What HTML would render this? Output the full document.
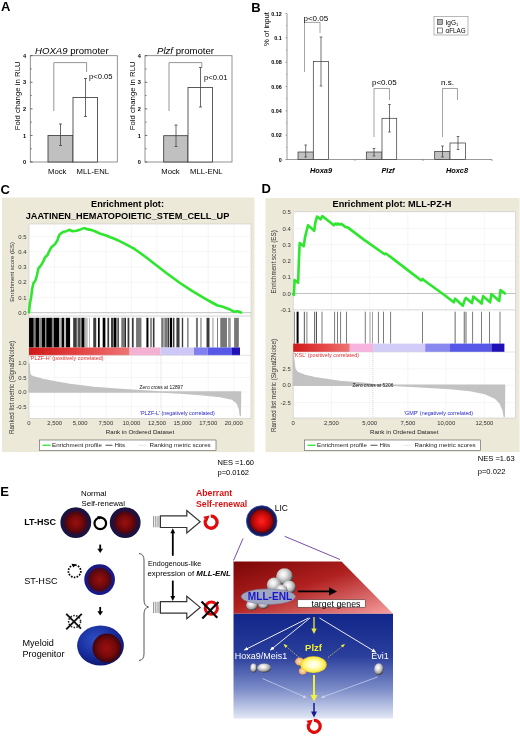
<!DOCTYPE html>
<html><head><meta charset="utf-8"><title>Figure</title>
<style>
html,body{margin:0;padding:0;background:#fff;}
svg{display:block;font-family:"Liberation Sans",sans-serif;}
</style></head><body>
<svg width="520" height="736" viewBox="0 0 520 736">
<rect width="520" height="736" fill="#fff"/>
<text x="1" y="11.3" font-size="13" text-anchor="start" font-weight="bold" font-style="normal" fill="#000" >A</text>
<text x="251.3" y="12" font-size="13" text-anchor="start" font-weight="bold" font-style="normal" fill="#000" >B</text>
<rect x="30.3" y="55.7" width="87.0" height="106.3" fill="#fff" stroke="#777" stroke-width="0.8"/>
<line x1="30.3" y1="162.0" x2="32.5" y2="162.0" stroke="#444" stroke-width="0.8"/>
<text x="26.1" y="164.1" font-size="5.6" text-anchor="end" font-weight="bold" font-style="normal" fill="#000" >0</text>
<line x1="30.3" y1="135.425" x2="32.5" y2="135.425" stroke="#444" stroke-width="0.8"/>
<text x="26.1" y="137.525" font-size="5.6" text-anchor="end" font-weight="bold" font-style="normal" fill="#000" >1</text>
<line x1="30.3" y1="108.85" x2="32.5" y2="108.85" stroke="#444" stroke-width="0.8"/>
<text x="26.1" y="110.94999999999999" font-size="5.6" text-anchor="end" font-weight="bold" font-style="normal" fill="#000" >2</text>
<line x1="30.3" y1="82.275" x2="32.5" y2="82.275" stroke="#444" stroke-width="0.8"/>
<text x="26.1" y="84.375" font-size="5.6" text-anchor="end" font-weight="bold" font-style="normal" fill="#000" >3</text>
<line x1="30.3" y1="55.7" x2="32.5" y2="55.7" stroke="#444" stroke-width="0.8"/>
<text x="26.1" y="57.800000000000004" font-size="5.6" text-anchor="end" font-weight="bold" font-style="normal" fill="#000" >4</text>
<line x1="30.3" y1="148.7125" x2="31.900000000000002" y2="148.7125" stroke="#555" stroke-width="0.7"/>
<line x1="30.3" y1="122.1375" x2="31.900000000000002" y2="122.1375" stroke="#555" stroke-width="0.7"/>
<line x1="30.3" y1="95.5625" x2="31.900000000000002" y2="95.5625" stroke="#555" stroke-width="0.7"/>
<line x1="30.3" y1="68.9875" x2="31.900000000000002" y2="68.9875" stroke="#555" stroke-width="0.7"/>
<rect x="48" y="135.5" width="25" height="26.5" fill="#c0c0c0" stroke="#333" stroke-width="0.8"/>
<rect x="73" y="97.5" width="24.5" height="64.5" fill="#fff" stroke="#333" stroke-width="0.8"/>
<path d="M60.5 124V145.5M59.0 124h3M59.0 145.5h3" stroke="#444" stroke-width="0.8" fill="none"/>
<path d="M85.5 78.5V116.5M84.0 78.5h3M84.0 116.5h3" stroke="#444" stroke-width="0.8" fill="none"/>
<path d="M53.8 111V62.6H86.6V72" stroke="#8a8a8a" stroke-width="0.9" fill="none"/>
<text x="89" y="79" font-size="7.6" text-anchor="start" font-weight="normal" font-style="normal" fill="#000" >p&lt;0.05</text>
<text x="35" y="53.5" font-size="9.6"><tspan font-style="italic">HOXA9</tspan> promoter</text>
<text x="48" y="173.7" font-size="7.7" text-anchor="start" font-weight="normal" font-style="normal" fill="#000" >Mock</text>
<text x="76.5" y="173.7" font-size="7.7" text-anchor="start" font-weight="normal" font-style="normal" fill="#000" >MLL-ENL</text>
<text transform="translate(20.3,95.85) rotate(-90)" font-size="7.8" text-anchor="middle">Fold change in RLU</text>
<rect x="145" y="55.7" width="87" height="106.3" fill="#fff" stroke="#777" stroke-width="0.8"/>
<line x1="145" y1="162.0" x2="147.2" y2="162.0" stroke="#444" stroke-width="0.8"/>
<text x="140.8" y="164.1" font-size="5.6" text-anchor="end" font-weight="bold" font-style="normal" fill="#000" >0</text>
<line x1="145" y1="135.425" x2="147.2" y2="135.425" stroke="#444" stroke-width="0.8"/>
<text x="140.8" y="137.525" font-size="5.6" text-anchor="end" font-weight="bold" font-style="normal" fill="#000" >1</text>
<line x1="145" y1="108.85" x2="147.2" y2="108.85" stroke="#444" stroke-width="0.8"/>
<text x="140.8" y="110.94999999999999" font-size="5.6" text-anchor="end" font-weight="bold" font-style="normal" fill="#000" >2</text>
<line x1="145" y1="82.275" x2="147.2" y2="82.275" stroke="#444" stroke-width="0.8"/>
<text x="140.8" y="84.375" font-size="5.6" text-anchor="end" font-weight="bold" font-style="normal" fill="#000" >3</text>
<line x1="145" y1="55.7" x2="147.2" y2="55.7" stroke="#444" stroke-width="0.8"/>
<text x="140.8" y="57.800000000000004" font-size="5.6" text-anchor="end" font-weight="bold" font-style="normal" fill="#000" >4</text>
<line x1="145" y1="148.7125" x2="146.6" y2="148.7125" stroke="#555" stroke-width="0.7"/>
<line x1="145" y1="122.1375" x2="146.6" y2="122.1375" stroke="#555" stroke-width="0.7"/>
<line x1="145" y1="95.5625" x2="146.6" y2="95.5625" stroke="#555" stroke-width="0.7"/>
<line x1="145" y1="68.9875" x2="146.6" y2="68.9875" stroke="#555" stroke-width="0.7"/>
<rect x="163.7" y="135.7" width="24.30000000000001" height="26.30000000000001" fill="#c0c0c0" stroke="#333" stroke-width="0.8"/>
<rect x="188" y="87.5" width="24.5" height="74.5" fill="#fff" stroke="#333" stroke-width="0.8"/>
<path d="M176 125V146.5M174.5 125h3M174.5 146.5h3" stroke="#444" stroke-width="0.8" fill="none"/>
<path d="M200.5 67.5V107M199.0 67.5h3M199.0 107h3" stroke="#444" stroke-width="0.8" fill="none"/>
<path d="M169 111V62.6H201.8V68" stroke="#8a8a8a" stroke-width="0.9" fill="none"/>
<text x="204" y="79.5" font-size="7.6" text-anchor="start" font-weight="normal" font-style="normal" fill="#000" >p&lt;0.01</text>
<text x="157" y="53.5" font-size="9.6"><tspan font-style="italic">Plzf</tspan> promoter</text>
<text x="161.29999999999998" y="173.7" font-size="7.7" text-anchor="start" font-weight="normal" font-style="normal" fill="#000" >Mock</text>
<text x="190" y="173.7" font-size="7.7" text-anchor="start" font-weight="normal" font-style="normal" fill="#000" >MLL-ENL</text>
<text transform="translate(135,95.85) rotate(-90)" font-size="7.8" text-anchor="middle">Fold change in RLU</text>
<path d="M287 13.5V159.5H492" stroke="#555" stroke-width="0.6" fill="none"/>
<line x1="286" y1="147.33333333333334" x2="287" y2="147.33333333333334" stroke="#666" stroke-width="0.5"/>
<line x1="286" y1="123.0" x2="287" y2="123.0" stroke="#666" stroke-width="0.5"/>
<line x1="286" y1="98.66666666666667" x2="287" y2="98.66666666666667" stroke="#666" stroke-width="0.5"/>
<line x1="286" y1="74.33333333333334" x2="287" y2="74.33333333333334" stroke="#666" stroke-width="0.5"/>
<line x1="286" y1="50.0" x2="287" y2="50.0" stroke="#666" stroke-width="0.5"/>
<line x1="286" y1="25.666666666666686" x2="287" y2="25.666666666666686" stroke="#666" stroke-width="0.5"/>
<line x1="285.5" y1="159.5" x2="287" y2="159.5" stroke="#666" stroke-width="0.6"/>
<text x="281.8" y="161.8" font-size="5.4" text-anchor="end" font-weight="bold" font-style="normal" fill="#000" >0</text>
<line x1="285.5" y1="135.16666666666666" x2="287" y2="135.16666666666666" stroke="#666" stroke-width="0.6"/>
<text x="281.8" y="137.46666666666667" font-size="5.4" text-anchor="end" font-weight="bold" font-style="normal" fill="#000" >0.02</text>
<line x1="285.5" y1="110.83333333333334" x2="287" y2="110.83333333333334" stroke="#666" stroke-width="0.6"/>
<text x="281.8" y="113.13333333333334" font-size="5.4" text-anchor="end" font-weight="bold" font-style="normal" fill="#000" >0.04</text>
<line x1="285.5" y1="86.5" x2="287" y2="86.5" stroke="#666" stroke-width="0.6"/>
<text x="281.8" y="88.8" font-size="5.4" text-anchor="end" font-weight="bold" font-style="normal" fill="#000" >0.06</text>
<line x1="285.5" y1="62.16666666666667" x2="287" y2="62.16666666666667" stroke="#666" stroke-width="0.6"/>
<text x="281.8" y="64.46666666666667" font-size="5.4" text-anchor="end" font-weight="bold" font-style="normal" fill="#000" >0.08</text>
<line x1="285.5" y1="37.83333333333334" x2="287" y2="37.83333333333334" stroke="#666" stroke-width="0.6"/>
<text x="281.8" y="40.13333333333334" font-size="5.4" text-anchor="end" font-weight="bold" font-style="normal" fill="#000" >0.1</text>
<line x1="285.5" y1="13.5" x2="287" y2="13.5" stroke="#666" stroke-width="0.6"/>
<text x="281.8" y="15.8" font-size="5.4" text-anchor="end" font-weight="bold" font-style="normal" fill="#000" >0.12</text>
<line x1="355" y1="159.5" x2="355" y2="161.0" stroke="#666" stroke-width="0.6"/>
<line x1="423" y1="159.5" x2="423" y2="161.0" stroke="#666" stroke-width="0.6"/>
<line x1="492" y1="159.5" x2="492" y2="161.0" stroke="#666" stroke-width="0.6"/>
<text transform="translate(269.3,29) rotate(-90)" font-size="7.6" text-anchor="middle">% of input</text>
<rect x="298" y="152" width="15.300000000000011" height="7.5" fill="#c0c0c0" stroke="#333" stroke-width="0.7"/>
<rect x="313.3" y="61.4" width="15.300000000000011" height="98.1" fill="#fff" stroke="#333" stroke-width="0.7"/>
<rect x="366.3" y="152" width="15.699999999999989" height="7.5" fill="#c0c0c0" stroke="#333" stroke-width="0.7"/>
<rect x="382" y="118.3" width="14.699999999999989" height="41.2" fill="#fff" stroke="#333" stroke-width="0.7"/>
<rect x="434.7" y="151.4" width="15.300000000000011" height="8.099999999999994" fill="#c0c0c0" stroke="#333" stroke-width="0.7"/>
<rect x="450" y="143" width="15.600000000000023" height="16.5" fill="#fff" stroke="#333" stroke-width="0.7"/>
<path d="M305.7 145V157M304.4 145h2.6M304.4 157h2.6" stroke="#333" stroke-width="0.7" fill="none"/>
<path d="M321 37V86M319.7 37h2.6M319.7 86h2.6" stroke="#333" stroke-width="0.7" fill="none"/>
<path d="M374 148.5V156M372.7 148.5h2.6M372.7 156h2.6" stroke="#333" stroke-width="0.7" fill="none"/>
<path d="M389.5 104.5V132M388.2 104.5h2.6M388.2 132h2.6" stroke="#333" stroke-width="0.7" fill="none"/>
<path d="M442.5 146V157M441.2 146h2.6M441.2 157h2.6" stroke="#333" stroke-width="0.7" fill="none"/>
<path d="M458 136.5V149.5M456.7 136.5h2.6M456.7 149.5h2.6" stroke="#333" stroke-width="0.7" fill="none"/>
<path d="M304.5 72V22.4H320V33" stroke="#666" stroke-width="0.6" fill="none"/>
<path d="M374 137V88.5H389.5V100" stroke="#666" stroke-width="0.6" fill="none"/>
<path d="M442.5 137V88.5H457.5V100" stroke="#666" stroke-width="0.6" fill="none"/>
<text x="303.5" y="20.5" font-size="8" text-anchor="start" font-weight="normal" font-style="normal" fill="#000" >p&lt;0.05</text>
<text x="372" y="85" font-size="8" text-anchor="start" font-weight="normal" font-style="normal" fill="#000" >p&lt;0.05</text>
<text x="441" y="85" font-size="8" text-anchor="start" font-weight="normal" font-style="normal" fill="#000" >n.s.</text>
<text x="321" y="172.8" font-size="7.4" text-anchor="middle" font-weight="bold" font-style="italic" fill="#000" >Hoxa9</text>
<text x="388" y="172.8" font-size="7.4" text-anchor="middle" font-weight="bold" font-style="italic" fill="#000" >Plzf</text>
<text x="457" y="172.8" font-size="7.4" text-anchor="middle" font-weight="bold" font-style="italic" fill="#000" >Hoxc8</text>
<rect x="434" y="16.5" width="34" height="18.5" fill="#fff" stroke="#888" stroke-width="0.6"/>
<rect x="437.5" y="19.5" width="5" height="5" fill="#b0b0b0" stroke="#333" stroke-width="0.6"/>
<rect x="437.5" y="28" width="5" height="5" fill="#fff" stroke="#333" stroke-width="0.6"/>
<text x="445.5" y="24.7" font-size="6.5">IgG<tspan font-size="4" dy="1.2">1</tspan></text>
<text x="445.5" y="33.3" font-size="6.3" text-anchor="start" font-weight="normal" font-style="normal" fill="#000" >αFLAG</text>
<text x="0.5" y="193.8" font-size="13" text-anchor="start" font-weight="bold" font-style="normal" fill="#000" >C</text>
<rect x="2" y="197.5" width="252.5" height="254.5" fill="#ece9d8"/>
<text x="127.5" y="207" font-size="9.2" text-anchor="middle" font-weight="bold" font-style="normal" fill="#000" >Enrichment plot:</text>
<text x="127.5" y="218.5" font-size="9.2" text-anchor="middle" font-weight="bold" font-style="normal" fill="#000" >JAATINEN_HEMATOPOIETIC_STEM_CELL_UP</text>
<rect x="29" y="224" width="222" height="194.5" fill="#fff" stroke="#c8c8c8" stroke-width="0.6"/>
<line x1="54.6" y1="224" x2="54.6" y2="316" stroke="#f0f0f0" stroke-width="0.6"/>
<line x1="54.6" y1="355.3" x2="54.6" y2="418.5" stroke="#f0f0f0" stroke-width="0.6"/>
<line x1="80.2" y1="224" x2="80.2" y2="316" stroke="#f0f0f0" stroke-width="0.6"/>
<line x1="80.2" y1="355.3" x2="80.2" y2="418.5" stroke="#f0f0f0" stroke-width="0.6"/>
<line x1="105.80000000000001" y1="224" x2="105.80000000000001" y2="316" stroke="#f0f0f0" stroke-width="0.6"/>
<line x1="105.80000000000001" y1="355.3" x2="105.80000000000001" y2="418.5" stroke="#f0f0f0" stroke-width="0.6"/>
<line x1="131.4" y1="224" x2="131.4" y2="316" stroke="#f0f0f0" stroke-width="0.6"/>
<line x1="131.4" y1="355.3" x2="131.4" y2="418.5" stroke="#f0f0f0" stroke-width="0.6"/>
<line x1="157.0" y1="224" x2="157.0" y2="316" stroke="#f0f0f0" stroke-width="0.6"/>
<line x1="157.0" y1="355.3" x2="157.0" y2="418.5" stroke="#f0f0f0" stroke-width="0.6"/>
<line x1="182.60000000000002" y1="224" x2="182.60000000000002" y2="316" stroke="#f0f0f0" stroke-width="0.6"/>
<line x1="182.60000000000002" y1="355.3" x2="182.60000000000002" y2="418.5" stroke="#f0f0f0" stroke-width="0.6"/>
<line x1="208.20000000000002" y1="224" x2="208.20000000000002" y2="316" stroke="#f0f0f0" stroke-width="0.6"/>
<line x1="208.20000000000002" y1="355.3" x2="208.20000000000002" y2="418.5" stroke="#f0f0f0" stroke-width="0.6"/>
<line x1="233.8" y1="224" x2="233.8" y2="316" stroke="#f0f0f0" stroke-width="0.6"/>
<line x1="233.8" y1="355.3" x2="233.8" y2="418.5" stroke="#f0f0f0" stroke-width="0.6"/>
<line x1="29" y1="312.7" x2="251" y2="312.7" stroke="#999" stroke-width="0.6" />
<text x="26.5" y="314.8" font-size="5.9" text-anchor="end" font-weight="normal" font-style="normal" fill="#333" >0.0</text>
<line x1="29" y1="297.45" x2="251" y2="297.45" stroke="#f0f0f0" stroke-width="0.6" />
<text x="26.5" y="299.55" font-size="5.9" text-anchor="end" font-weight="normal" font-style="normal" fill="#333" >0.1</text>
<line x1="29" y1="282.2" x2="251" y2="282.2" stroke="#f0f0f0" stroke-width="0.6" />
<text x="26.5" y="284.3" font-size="5.9" text-anchor="end" font-weight="normal" font-style="normal" fill="#333" >0.2</text>
<line x1="29" y1="266.95" x2="251" y2="266.95" stroke="#f0f0f0" stroke-width="0.6" />
<text x="26.5" y="269.05" font-size="5.9" text-anchor="end" font-weight="normal" font-style="normal" fill="#333" >0.3</text>
<line x1="29" y1="251.7" x2="251" y2="251.7" stroke="#f0f0f0" stroke-width="0.6" />
<text x="26.5" y="253.79999999999998" font-size="5.9" text-anchor="end" font-weight="normal" font-style="normal" fill="#333" >0.4</text>
<line x1="29" y1="236.45" x2="251" y2="236.45" stroke="#f0f0f0" stroke-width="0.6" />
<text x="26.5" y="238.54999999999998" font-size="5.9" text-anchor="end" font-weight="normal" font-style="normal" fill="#333" >0.5</text>
<line x1="29" y1="316" x2="251" y2="316" stroke="#bbb" stroke-width="0.6"/>
<path d="M29.0 312.4 L29.8 304.1 L31.1 297.4 L32.1 289.3 L33.4 283.2 L35.4 280.5 L36.8 275.8 L38.4 268.4 L40.8 265.7 L42.8 262.4 L44.8 257.7 L47.5 255.0 L49.6 250.3 L51.6 246.9 L54.9 244.2 L57.2 240.8 L59.0 235.5 L60.3 233.8 L63.7 231.7 L66.4 231.2 L69.3 229.8 L72.4 231.2 L76.5 230.7 L80.5 229.4 L84.1 228.1 L87.9 229.4 L91.9 230.1 L96.0 231.7 L101.2 234.1 L105.5 235.2 L110.4 237.3 L115.0 239.0 L119.6 241.2 L124.0 243.4 L128.8 245.8 L133.5 248.4 L138.1 251.5 L145.0 256.5 L155.0 264.3 L167.0 273.5 L180.0 283.0 L192.0 290.8 L205.0 298.7 L211.0 302.0 L217.5 305.5 L222.0 306.6 L226.0 308.0 L230.0 309.5 L233.7 311.7 L237.5 311.2 L241.0 312.5" fill="none" stroke="#2ee62e" stroke-width="2.6" stroke-linejoin="round" stroke-linecap="round"/>
<rect x="29.04" y="317.8" width="4.71" height="29.69999999999999" fill="#000"/>
<rect x="33.75" y="317.8" width="1.75" height="29.69999999999999" fill="#808080"/>
<rect x="35.50" y="317.8" width="3.63" height="29.69999999999999" fill="#000"/>
<rect x="39.13" y="317.8" width="2.69" height="29.69999999999999" fill="#8c8c8c"/>
<rect x="41.82" y="317.8" width="3.36" height="29.69999999999999" fill="#000"/>
<rect x="45.19" y="317.8" width="1.08" height="29.69999999999999" fill="#808080"/>
<rect x="46.27" y="317.8" width="5.65" height="29.69999999999999" fill="#000"/>
<rect x="51.92" y="317.8" width="2.02" height="29.69999999999999" fill="#808080"/>
<rect x="53.94" y="317.8" width="5.38" height="29.69999999999999" fill="#000"/>
<rect x="59.32" y="317.8" width="2.29" height="29.69999999999999" fill="#b0b0b0"/>
<rect x="61.61" y="317.8" width="2.42" height="29.69999999999999" fill="#000"/>
<rect x="64.03" y="317.8" width="2.02" height="29.69999999999999" fill="#b8b8b8"/>
<rect x="66.05" y="317.8" width="4.04" height="29.69999999999999" fill="#000"/>
<rect x="73.18" y="317.8" width="3.63" height="29.69999999999999" fill="#3a3a3a"/>
<rect x="76.82" y="317.8" width="1.35" height="29.69999999999999" fill="#aaa"/>
<rect x="78.16" y="317.8" width="1.75" height="29.69999999999999" fill="#3a3a3a"/>
<rect x="80.18" y="317.8" width="1.35" height="29.69999999999999" fill="#777"/>
<rect x="81.53" y="317.8" width="2.69" height="29.69999999999999" fill="#000"/>
<rect x="84.22" y="317.8" width="1.35" height="29.69999999999999" fill="#777"/>
<rect x="86.24" y="317.8" width="1.35" height="29.69999999999999" fill="#aaa"/>
<rect x="89.33" y="317.8" width="0.54" height="29.69999999999999" fill="#777"/>
<rect x="93.26" y="317.8" width="2.96" height="29.69999999999999" fill="#3a3a3a"/>
<rect x="97.97" y="317.8" width="1.75" height="29.69999999999999" fill="#000"/>
<rect x="102.69" y="317.8" width="2.69" height="29.69999999999999" fill="#000"/>
<rect x="107.40" y="317.8" width="1.75" height="29.69999999999999" fill="#3a3a3a"/>
<rect x="111.03" y="317.8" width="2.42" height="29.69999999999999" fill="#3a3a3a"/>
<rect x="113.72" y="317.8" width="2.42" height="29.69999999999999" fill="#000"/>
<rect x="116.14" y="317.8" width="1.08" height="29.69999999999999" fill="#777"/>
<rect x="117.49" y="317.8" width="1.35" height="29.69999999999999" fill="#3a3a3a"/>
<rect x="121.26" y="317.8" width="2.96" height="29.69999999999999" fill="#777"/>
<rect x="124.49" y="317.8" width="1.35" height="29.69999999999999" fill="#000"/>
<rect x="127.58" y="317.8" width="1.75" height="29.69999999999999" fill="#3a3a3a"/>
<rect x="131.89" y="317.8" width="1.75" height="29.69999999999999" fill="#3a3a3a"/>
<rect x="136.06" y="317.8" width="5.38" height="29.69999999999999" fill="#777"/>
<rect x="146.42" y="317.8" width="2.02" height="29.69999999999999" fill="#000"/>
<rect x="150.19" y="317.8" width="1.62" height="29.69999999999999" fill="#777"/>
<rect x="152.88" y="317.8" width="1.62" height="29.69999999999999" fill="#3a3a3a"/>
<rect x="161.22" y="317.8" width="2.42" height="29.69999999999999" fill="#777"/>
<rect x="164.32" y="317.8" width="2.69" height="29.69999999999999" fill="#777"/>
<rect x="167.42" y="317.8" width="1.88" height="29.69999999999999" fill="#3a3a3a"/>
<rect x="169.97" y="317.8" width="2.02" height="29.69999999999999" fill="#000"/>
<rect x="172.80" y="317.8" width="1.62" height="29.69999999999999" fill="#3a3a3a"/>
<rect x="176.43" y="317.8" width="3.10" height="29.69999999999999" fill="#3a3a3a"/>
<rect x="181.82" y="317.8" width="1.35" height="29.69999999999999" fill="#3a3a3a"/>
<rect x="187.20" y="317.8" width="1.35" height="29.69999999999999" fill="#777"/>
<rect x="195.95" y="317.8" width="2.02" height="29.69999999999999" fill="#777"/>
<rect x="200.07" y="317.8" width="1.75" height="29.69999999999999" fill="#aaa"/>
<rect x="206.53" y="317.8" width="2.96" height="29.69999999999999" fill="#3a3a3a"/>
<rect x="212.32" y="317.8" width="1.21" height="29.69999999999999" fill="#aaa"/>
<rect x="217.03" y="317.8" width="0.94" height="29.69999999999999" fill="#777"/>
<rect x="220.26" y="317.8" width="6.73" height="29.69999999999999" fill="#777"/>
<rect x="228.07" y="317.8" width="2.69" height="29.69999999999999" fill="#999"/>
<rect x="234.13" y="317.8" width="4.71" height="29.69999999999999" fill="#777"/>
<rect x="29" y="347.5" width="100.6" height="7.800000000000011" fill="url(#gBandR)"/>
<rect x="129.6" y="347.5" width="30.900000000000006" height="7.800000000000011" fill="#f4b2d2"/>
<rect x="160.5" y="347.5" width="33.5" height="7.800000000000011" fill="#cec8f6"/>
<rect x="194" y="347.5" width="13.699999999999989" height="7.800000000000011" fill="#8080f0"/>
<rect x="207.7" y="347.5" width="24.30000000000001" height="7.800000000000011" fill="#5858e8"/>
<rect x="232" y="347.5" width="8" height="7.800000000000011" fill="#2010b8"/>
<line x1="29" y1="355.3" x2="251" y2="355.3" stroke="#ccc" stroke-width="0.5"/>
<line x1="29" y1="363" x2="251" y2="363" stroke="#f0f0f0" stroke-width="0.6"/>
<text x="26.5" y="365.1" font-size="5.9" text-anchor="end" font-weight="normal" font-style="normal" fill="#333" >1.0</text>
<line x1="29" y1="377.5" x2="251" y2="377.5" stroke="#f0f0f0" stroke-width="0.6"/>
<text x="26.5" y="379.6" font-size="5.9" text-anchor="end" font-weight="normal" font-style="normal" fill="#333" >0.5</text>
<line x1="29" y1="392" x2="251" y2="392" stroke="#f0f0f0" stroke-width="0.6"/>
<text x="26.5" y="394.1" font-size="5.9" text-anchor="end" font-weight="normal" font-style="normal" fill="#333" >0.0</text>
<line x1="29" y1="406.7" x2="251" y2="406.7" stroke="#f0f0f0" stroke-width="0.6"/>
<text x="26.5" y="408.8" font-size="5.9" text-anchor="end" font-weight="normal" font-style="normal" fill="#333" >-0.5</text>
<path d="M29 392 L29.0 392.0 L29.1 364.0 L29.5 372.0 L30.3 375.3 L32.8 376.6 L42.8 379.4 L57.0 382.2 L70.0 384.4 L94.2 387.4 L117.3 389.2 L140.4 390.8 L161.0 392.0 L180.0 393.0 L200.0 394.6 L220.0 396.6 L232.0 399.0 L237.0 403.0 L239.5 409.0 L240.3 415.5 L240.6 392.0 L240.6 392Z" fill="#c2c2c2" stroke="#c2c2c2" stroke-width="1.4" stroke-linejoin="round"/>
<line x1="161" y1="355.3" x2="161" y2="418.5" stroke="#aaa" stroke-width="0.5" stroke-dasharray="1 1"/>
<text x="161.3" y="389" font-size="4.9" text-anchor="middle" font-weight="normal" font-style="normal" fill="#111" >Zero cross at 12897</text>
<text x="29.8" y="360.1" font-size="5.4" text-anchor="start" font-weight="normal" font-style="normal" fill="#e03030" >'PLZF-H' (positively correlated)</text>
<text x="140" y="415.0" font-size="5.4" text-anchor="start" font-weight="normal" font-style="normal" fill="#2828c8" >'PLZF-L' (negatively correlated)</text>
<text x="29.0" y="425.4" font-size="5.9" text-anchor="middle" font-weight="normal" font-style="normal" fill="#333" >0</text>
<text x="54.6" y="425.4" font-size="5.9" text-anchor="middle" font-weight="normal" font-style="normal" fill="#333" >2,500</text>
<text x="80.2" y="425.4" font-size="5.9" text-anchor="middle" font-weight="normal" font-style="normal" fill="#333" >5,000</text>
<text x="105.80000000000001" y="425.4" font-size="5.9" text-anchor="middle" font-weight="normal" font-style="normal" fill="#333" >7,500</text>
<text x="131.4" y="425.4" font-size="5.9" text-anchor="middle" font-weight="normal" font-style="normal" fill="#333" >10,000</text>
<text x="157.0" y="425.4" font-size="5.9" text-anchor="middle" font-weight="normal" font-style="normal" fill="#333" >12,500</text>
<text x="182.60000000000002" y="425.4" font-size="5.9" text-anchor="middle" font-weight="normal" font-style="normal" fill="#333" >15,000</text>
<text x="208.20000000000002" y="425.4" font-size="5.9" text-anchor="middle" font-weight="normal" font-style="normal" fill="#333" >17,500</text>
<text x="233.8" y="425.4" font-size="5.9" text-anchor="middle" font-weight="normal" font-style="normal" fill="#333" >20,000</text>
<text x="140.0" y="434.0" font-size="6.2" text-anchor="middle" font-weight="normal" font-style="normal" fill="#222" >Rank in Ordered Dataset</text>
<text transform="translate(14,272.0) rotate(-90)" font-size="5.95" text-anchor="middle" fill="#333">Enrichment score (ES)</text>
<text transform="translate(14,387.4) rotate(-90)" font-size="6.3" text-anchor="middle" fill="#333">Ranked list metric (Signal2Noise)</text>
<rect x="39.5" y="440" width="176.5" height="10.5" fill="#fff" stroke="#555" stroke-width="0.6"/>
<line x1="42.5" y1="445.25" x2="50.5" y2="445.25" stroke="#2ee62e" stroke-width="1.3"/>
<text x="52.0" y="447.45" font-size="6.2" text-anchor="start" font-weight="normal" font-style="normal" fill="#222" >Enrichment profile</text>
<line x1="105.5" y1="445.25" x2="112.5" y2="445.25" stroke="#222" stroke-width="0.8"/>
<text x="114.5" y="447.45" font-size="6.2" text-anchor="start" font-weight="normal" font-style="normal" fill="#222" >Hits</text>
<line x1="138.5" y1="445.25" x2="146.5" y2="445.25" stroke="#ddd" stroke-width="0.8"/>
<text x="149.5" y="447.45" font-size="6.2" text-anchor="start" font-weight="normal" font-style="normal" fill="#222" >Ranking metric scores</text>
<text x="217.5" y="464.5" font-size="7.5" text-anchor="start" font-weight="normal" font-style="normal" fill="#000" >NES =1.60</text>
<text x="217.5" y="475" font-size="7.5" text-anchor="start" font-weight="normal" font-style="normal" fill="#000" >p=0.0162</text>
<text x="261.5" y="193" font-size="13" text-anchor="start" font-weight="bold" font-style="normal" fill="#000" >D</text>
<rect x="265.5" y="198" width="254.0" height="254" fill="#ece9d8"/>
<text x="392" y="207" font-size="9.2" text-anchor="middle" font-weight="bold" font-style="normal" fill="#000" >Enrichment plot: MLL-PZ-H</text>
<rect x="293.2" y="211.7" width="222.09999999999997" height="206.3" fill="#fff" stroke="#c8c8c8" stroke-width="0.6"/>
<line x1="331.44" y1="211.7" x2="331.44" y2="309.9" stroke="#f0f0f0" stroke-width="0.6"/>
<line x1="331.44" y1="352" x2="331.44" y2="418" stroke="#f0f0f0" stroke-width="0.6"/>
<line x1="369.68" y1="211.7" x2="369.68" y2="309.9" stroke="#f0f0f0" stroke-width="0.6"/>
<line x1="369.68" y1="352" x2="369.68" y2="418" stroke="#f0f0f0" stroke-width="0.6"/>
<line x1="407.91999999999996" y1="211.7" x2="407.91999999999996" y2="309.9" stroke="#f0f0f0" stroke-width="0.6"/>
<line x1="407.91999999999996" y1="352" x2="407.91999999999996" y2="418" stroke="#f0f0f0" stroke-width="0.6"/>
<line x1="446.15999999999997" y1="211.7" x2="446.15999999999997" y2="309.9" stroke="#f0f0f0" stroke-width="0.6"/>
<line x1="446.15999999999997" y1="352" x2="446.15999999999997" y2="418" stroke="#f0f0f0" stroke-width="0.6"/>
<line x1="484.4" y1="211.7" x2="484.4" y2="309.9" stroke="#f0f0f0" stroke-width="0.6"/>
<line x1="484.4" y1="352" x2="484.4" y2="418" stroke="#f0f0f0" stroke-width="0.6"/>
<text x="290.7" y="311.85" font-size="5.9" text-anchor="end" font-weight="normal" font-style="normal" fill="#333" >-0.1</text>
<line x1="293.2" y1="293.5" x2="515.3" y2="293.5" stroke="#999" stroke-width="0.6" />
<text x="290.7" y="295.6" font-size="5.9" text-anchor="end" font-weight="normal" font-style="normal" fill="#333" >0.0</text>
<line x1="293.2" y1="277.25" x2="515.3" y2="277.25" stroke="#f0f0f0" stroke-width="0.6" />
<text x="290.7" y="279.35" font-size="5.9" text-anchor="end" font-weight="normal" font-style="normal" fill="#333" >0.1</text>
<line x1="293.2" y1="261.0" x2="515.3" y2="261.0" stroke="#f0f0f0" stroke-width="0.6" />
<text x="290.7" y="263.1" font-size="5.9" text-anchor="end" font-weight="normal" font-style="normal" fill="#333" >0.2</text>
<line x1="293.2" y1="244.75" x2="515.3" y2="244.75" stroke="#f0f0f0" stroke-width="0.6" />
<text x="290.7" y="246.85" font-size="5.9" text-anchor="end" font-weight="normal" font-style="normal" fill="#333" >0.3</text>
<line x1="293.2" y1="228.5" x2="515.3" y2="228.5" stroke="#f0f0f0" stroke-width="0.6" />
<text x="290.7" y="230.6" font-size="5.9" text-anchor="end" font-weight="normal" font-style="normal" fill="#333" >0.4</text>
<line x1="293.2" y1="212.25" x2="515.3" y2="212.25" stroke="#f0f0f0" stroke-width="0.6" />
<text x="290.7" y="214.35" font-size="5.9" text-anchor="end" font-weight="normal" font-style="normal" fill="#333" >0.5</text>
<line x1="293.2" y1="309.9" x2="515.3" y2="309.9" stroke="#bbb" stroke-width="0.6"/>
<path d="M293.2 293.9 L293.9 295.0 L294.6 280.0 L298.1 282.8 L298.8 262.7 L299.7 243.1 L303.8 246.1 L305.0 237.3 L306.2 232.7 L308.0 225.3 L314.2 230.8 L315.4 222.3 L317.0 216.5 L320.5 219.3 L322.3 216.1 L333.8 225.3 L335.5 223.5 L336.8 224.6 L338.0 223.5 L339.6 224.6 L341.2 223.9 L345.4 226.9 L347.7 227.4 L363.8 239.6 L384.6 254.2 L385.8 253.5 L391.5 257.6 L410.0 271.9 L421.3 280.5 L422.6 279.0 L423.9 280.3 L444.7 295.3 L453.8 302.3 L455.1 298.7 L462.9 305.7 L465.0 299.2 L466.0 297.9 L472.0 303.1 L473.3 296.6 L481.6 303.6 L483.1 296.1 L490.1 302.3 L491.4 294.0 L499.2 301.0 L500.5 290.1 L505.0 293.5" fill="none" stroke="#2ee62e" stroke-width="2.6" stroke-linejoin="round" stroke-linecap="round"/>
<rect x="294.40" y="311.7" width="0.60" height="31.900000000000034" fill="#444"/>
<rect x="296.60" y="311.7" width="2.00" height="31.900000000000034" fill="#000"/>
<rect x="303.85" y="311.7" width="0.90" height="31.900000000000034" fill="#444"/>
<rect x="306.45" y="311.7" width="0.90" height="31.900000000000034" fill="#777"/>
<rect x="314.25" y="311.7" width="0.90" height="31.900000000000034" fill="#444"/>
<rect x="316.05" y="311.7" width="0.90" height="31.900000000000034" fill="#444"/>
<rect x="321.65" y="311.7" width="0.70" height="31.900000000000034" fill="#444"/>
<rect x="334.35" y="311.7" width="0.70" height="31.900000000000034" fill="#444"/>
<rect x="337.25" y="311.7" width="0.70" height="31.900000000000034" fill="#444"/>
<rect x="340.35" y="311.7" width="0.70" height="31.900000000000034" fill="#444"/>
<rect x="346.05" y="311.7" width="0.70" height="31.900000000000034" fill="#444"/>
<rect x="364.85" y="311.7" width="0.70" height="31.900000000000034" fill="#444"/>
<rect x="369.65" y="311.7" width="0.70" height="31.900000000000034" fill="#777"/>
<rect x="372.25" y="311.7" width="0.70" height="31.900000000000034" fill="#777"/>
<rect x="377.95" y="311.7" width="0.70" height="31.900000000000034" fill="#444"/>
<rect x="383.25" y="311.7" width="0.70" height="31.900000000000034" fill="#444"/>
<rect x="390.35" y="311.7" width="0.70" height="31.900000000000034" fill="#444"/>
<rect x="422.25" y="311.7" width="0.70" height="31.900000000000034" fill="#444"/>
<rect x="454.70" y="311.7" width="0.80" height="31.900000000000034" fill="#444"/>
<rect x="463.80" y="311.7" width="0.80" height="31.900000000000034" fill="#444"/>
<rect x="465.60" y="311.7" width="0.80" height="31.900000000000034" fill="#444"/>
<rect x="472.35" y="311.7" width="0.70" height="31.900000000000034" fill="#444"/>
<rect x="481.25" y="311.7" width="0.70" height="31.900000000000034" fill="#444"/>
<rect x="489.25" y="311.7" width="0.70" height="31.900000000000034" fill="#444"/>
<rect x="499.65" y="311.7" width="0.70" height="31.900000000000034" fill="#444"/>
<rect x="293.2" y="343.6" width="56.60000000000002" height="8.399999999999977" fill="url(#gBandR2)"/>
<rect x="349.8" y="343.6" width="23.30000000000001" height="8.399999999999977" fill="#f6b4de"/>
<rect x="373.1" y="343.6" width="52.099999999999966" height="8.399999999999977" fill="#d2ccf8"/>
<rect x="425.2" y="343.6" width="24.80000000000001" height="8.399999999999977" fill="#8888f0"/>
<rect x="450" y="343.6" width="41.39999999999998" height="8.399999999999977" fill="#5858e8"/>
<rect x="491.4" y="343.6" width="13.0" height="8.399999999999977" fill="#2010b8"/>
<line x1="293.2" y1="352" x2="515.3" y2="352" stroke="#ccc" stroke-width="0.5"/>
<line x1="293.2" y1="368.8" x2="515.3" y2="368.8" stroke="#f0f0f0" stroke-width="0.6"/>
<text x="290.7" y="370.90000000000003" font-size="5.9" text-anchor="end" font-weight="normal" font-style="normal" fill="#333" >2.5</text>
<line x1="293.2" y1="385.2" x2="515.3" y2="385.2" stroke="#f0f0f0" stroke-width="0.6"/>
<text x="290.7" y="387.3" font-size="5.9" text-anchor="end" font-weight="normal" font-style="normal" fill="#333" >0.0</text>
<line x1="293.2" y1="402.5" x2="515.3" y2="402.5" stroke="#f0f0f0" stroke-width="0.6"/>
<text x="290.7" y="404.6" font-size="5.9" text-anchor="end" font-weight="normal" font-style="normal" fill="#333" >-2.5</text>
<path d="M293.2 385.2 L293.2 385.2 L293.3 352.5 L293.8 360.0 L295.0 369.5 L297.5 372.5 L305.0 375.5 L315.0 377.8 L340.0 381.4 L365.0 383.4 L372.8 384.4 L420.0 386.7 L450.0 388.5 L470.0 390.5 L485.0 393.5 L495.0 398.0 L500.0 403.0 L503.0 410.0 L504.3 416.5 L504.6 385.2 L504.6 385.2Z" fill="#c2c2c2" stroke="#c2c2c2" stroke-width="1.4" stroke-linejoin="round"/>
<line x1="372.8" y1="352" x2="372.8" y2="418" stroke="#aaa" stroke-width="0.5" stroke-dasharray="1 1"/>
<text x="373" y="386.9" font-size="4.9" text-anchor="middle" font-weight="normal" font-style="normal" fill="#111" >Zero cross at 5206</text>
<text x="294.0" y="356.8" font-size="5.4" text-anchor="start" font-weight="normal" font-style="normal" fill="#e03030" >'KSL' (positively correlated)</text>
<text x="404" y="414.5" font-size="5.4" text-anchor="start" font-weight="normal" font-style="normal" fill="#2828c8" >'GMP' (negatively correlated)</text>
<text x="293.2" y="424.9" font-size="5.9" text-anchor="middle" font-weight="normal" font-style="normal" fill="#333" >0</text>
<text x="331.44" y="424.9" font-size="5.9" text-anchor="middle" font-weight="normal" font-style="normal" fill="#333" >2,500</text>
<text x="369.68" y="424.9" font-size="5.9" text-anchor="middle" font-weight="normal" font-style="normal" fill="#333" >5,000</text>
<text x="407.91999999999996" y="424.9" font-size="5.9" text-anchor="middle" font-weight="normal" font-style="normal" fill="#333" >7,500</text>
<text x="446.15999999999997" y="424.9" font-size="5.9" text-anchor="middle" font-weight="normal" font-style="normal" fill="#333" >10,000</text>
<text x="484.4" y="424.9" font-size="5.9" text-anchor="middle" font-weight="normal" font-style="normal" fill="#333" >12,500</text>
<text x="404.25" y="433.5" font-size="6.2" text-anchor="middle" font-weight="normal" font-style="normal" fill="#222" >Rank in Ordered Dataset</text>
<text transform="translate(275.5,261.79999999999995) rotate(-90)" font-size="6.3" text-anchor="middle" fill="#333">Enrichment score (ES)</text>
<text transform="translate(275.5,385.5) rotate(-90)" font-size="6.3" text-anchor="middle" fill="#333">Ranked list metric (Signal2Noise)</text>
<rect x="304.5" y="440" width="176.0" height="10.5" fill="#fff" stroke="#555" stroke-width="0.6"/>
<line x1="307.5" y1="445.25" x2="315.5" y2="445.25" stroke="#2ee62e" stroke-width="1.3"/>
<text x="317.0" y="447.45" font-size="6.2" text-anchor="start" font-weight="normal" font-style="normal" fill="#222" >Enrichment profile</text>
<line x1="370.5" y1="445.25" x2="377.5" y2="445.25" stroke="#222" stroke-width="0.8"/>
<text x="379.5" y="447.45" font-size="6.2" text-anchor="start" font-weight="normal" font-style="normal" fill="#222" >Hits</text>
<line x1="403.5" y1="445.25" x2="411.5" y2="445.25" stroke="#ddd" stroke-width="0.8"/>
<text x="414.5" y="447.45" font-size="6.2" text-anchor="start" font-weight="normal" font-style="normal" fill="#222" >Ranking metric scores</text>
<text x="477.7" y="461.3" font-size="7.6" text-anchor="start" font-weight="normal" font-style="normal" fill="#000" >NES =1.63</text>
<text x="477.7" y="474" font-size="7.6" text-anchor="start" font-weight="normal" font-style="normal" fill="#000" >p=0.022</text>

<defs>
<linearGradient id="gBandR" x1="0" x2="1"><stop offset="0" stop-color="#d01818"/><stop offset="0.5" stop-color="#e44444"/><stop offset="1" stop-color="#ee7474"/></linearGradient>
<linearGradient id="gBandR2" x1="0" x2="1"><stop offset="0" stop-color="#d01818"/><stop offset="0.5" stop-color="#e44444"/><stop offset="1" stop-color="#ee7474"/></linearGradient>
<radialGradient id="gRed" cx="50%" cy="50%" r="50%"><stop offset="0" stop-color="#9a1010"/><stop offset="0.6" stop-color="#760a0a"/><stop offset="1" stop-color="#3c0410"/></radialGradient>
<radialGradient id="gLT" cx="50%" cy="50%" r="50%"><stop offset="0" stop-color="#9a1010"/><stop offset="0.4" stop-color="#780909"/><stop offset="0.66" stop-color="#4e0610"/><stop offset="0.8" stop-color="#201040"/><stop offset="1" stop-color="#15153e"/></radialGradient>
<radialGradient id="gST" cx="50%" cy="50%" r="50%"><stop offset="0" stop-color="#961010"/><stop offset="0.42" stop-color="#760a0a"/><stop offset="0.7" stop-color="#4c0818"/><stop offset="0.84" stop-color="#1a1a80"/><stop offset="1" stop-color="#161690"/></radialGradient>
<radialGradient id="gRedB" cx="50%" cy="50%" r="50%"><stop offset="0" stop-color="#ff2424"/><stop offset="0.4" stop-color="#e41010"/><stop offset="0.8" stop-color="#a80808"/><stop offset="1" stop-color="#5a0404"/></radialGradient>
<radialGradient id="gBlue" cx="40%" cy="35%" r="70%"><stop offset="0" stop-color="#3050c4"/><stop offset="0.6" stop-color="#172c9c"/><stop offset="1" stop-color="#0a1466"/></radialGradient>
<radialGradient id="gGrey" cx="42%" cy="36%" r="62%"><stop offset="0" stop-color="#ffffff"/><stop offset="0.35" stop-color="#e2e2e2"/><stop offset="0.75" stop-color="#a4a4a4"/><stop offset="1" stop-color="#3c3c3c"/></radialGradient>
<radialGradient id="gYel" cx="50%" cy="50%" r="50%"><stop offset="0" stop-color="#ffffff"/><stop offset="0.4" stop-color="#ffffc8"/><stop offset="0.8" stop-color="#fff060"/><stop offset="1" stop-color="#f0d418"/></radialGradient>
<radialGradient id="gOr" cx="50%" cy="50%" r="50%"><stop offset="0" stop-color="#ffe6c4"/><stop offset="1" stop-color="#f0a45c"/></radialGradient>
<linearGradient id="gTrap" x1="0" y1="0" x2="1" y2="1"><stop offset="0" stop-color="#7a0606"/><stop offset="0.45" stop-color="#b02020"/><stop offset="1" stop-color="#f8a0a0"/></linearGradient>
<linearGradient id="gBox" x1="0" y1="0" x2="0" y2="1"><stop offset="0" stop-color="#12268a"/><stop offset="0.4" stop-color="#2a3e9c"/><stop offset="0.72" stop-color="#7c8cc8"/><stop offset="1" stop-color="#e2e8f6"/></linearGradient>
<marker id="mW" viewBox="0 0 6 6" refX="5" refY="3" markerWidth="5" markerHeight="5" orient="auto"><path d="M0 0.5L6 3L0 5.5Z" fill="#fff"/></marker>
<marker id="mL" viewBox="0 0 6 6" refX="5" refY="3" markerWidth="5" markerHeight="5" orient="auto"><path d="M0 0.5L6 3L0 5.5Z" fill="#d0d8f4"/></marker>
<marker id="mY" viewBox="0 0 6 6" refX="5" refY="3" markerWidth="5" markerHeight="5" orient="auto"><path d="M0 0.5L6 3L0 5.5Z" fill="#e8e840"/></marker>
</defs>
<text x="0.3" y="496.2" font-size="13" text-anchor="start" font-weight="bold" font-style="normal" fill="#000" >E</text>
<text x="81" y="496.2" font-size="7.9" text-anchor="start" font-weight="normal" font-style="normal" fill="#000" >Normal</text>
<text x="81.6" y="505.8" font-size="7.8" text-anchor="start" font-weight="normal" font-style="normal" fill="#000" >Self-renewal</text>
<text x="24.2" y="525.3" font-size="9" text-anchor="start" font-weight="bold" font-style="normal" fill="#000" >LT-HSC</text>
<text x="24.2" y="583.5" font-size="9.1" text-anchor="start" font-weight="normal" font-style="normal" fill="#000" >ST-HSC</text>
<text x="22.5" y="645.8" font-size="9.1" text-anchor="start" font-weight="normal" font-style="normal" fill="#000" >Myeloid</text>
<text x="22.5" y="657.2" font-size="9.1" text-anchor="start" font-weight="normal" font-style="normal" fill="#000" >Progenitor</text>
<circle cx="75.8" cy="522.6" r="15.4" fill="url(#gLT)"/>
<circle cx="125.2" cy="522.6" r="15.4" fill="url(#gLT)"/>
<circle cx="100.3" cy="523.4" r="5.8" fill="#fff" stroke="#000" stroke-width="2.2"/>
<path d="M97.2 516l4.6 0.4l-2.6 3.2z" fill="#000"/>
<path d="M100.2 544.6V550" stroke="#000" stroke-width="1.8"/>
<path d="M97.4 548.8H103L100.2 553Z" fill="#000"/>
<path d="M100.2 607V612.4" stroke="#000" stroke-width="1.8"/>
<path d="M97.4 611.1999999999999H103L100.2 615.4Z" fill="#000"/>
<circle cx="99.6" cy="579.6" r="15.3" fill="url(#gST)"/>
<circle cx="74.6" cy="571.2" r="6.2" fill="#fff" stroke="#000" stroke-width="1.7" stroke-dasharray="1.6 1.3"/>
<path d="M71.5 563.8l4.6 0.4l-2.6 3.2z" fill="#000"/>
<circle cx="74.6" cy="621.6" r="6" fill="#fff" stroke="#222" stroke-width="1.5" stroke-dasharray="1.6 1.3"/>
<path d="M66.2 613.8L81 628.6M81.8 613.8L66.2 629.4" stroke="#111" stroke-width="1.9"/>
<ellipse cx="100.5" cy="645.6" rx="23.4" ry="20" fill="url(#gBlue)"/>
<circle cx="106.9" cy="648" r="14.4" fill="url(#gRed)"/>
<path d="M139 553.5Q144 554 144 560V600Q144 606 148.5 607Q144 608 144 614V654Q144 660 139 660.5" fill="none" stroke="#444" stroke-width="0.9"/>
<line x1="153.5" y1="516.1" x2="153.5" y2="527.3000000000001" stroke="#555" stroke-width="0.6"/>
<line x1="155.3" y1="516.1" x2="155.3" y2="527.3000000000001" stroke="#555" stroke-width="0.6"/>
<line x1="157.1" y1="516.1" x2="157.1" y2="527.3000000000001" stroke="#555" stroke-width="0.6"/>
<line x1="158.9" y1="516.1" x2="158.9" y2="527.3000000000001" stroke="#555" stroke-width="0.6"/>
<path d="M160.4 515.9000000000001H186.8V510.50000000000006L200.2 521.7L186.8 532.9000000000001V527.5H160.4Z" fill="#fff" stroke="#333" stroke-width="1.2"/>
<line x1="153.5" y1="601.8" x2="153.5" y2="613.0" stroke="#555" stroke-width="0.6"/>
<line x1="155.3" y1="601.8" x2="155.3" y2="613.0" stroke="#555" stroke-width="0.6"/>
<line x1="157.1" y1="601.8" x2="157.1" y2="613.0" stroke="#555" stroke-width="0.6"/>
<line x1="158.9" y1="601.8" x2="158.9" y2="613.0" stroke="#555" stroke-width="0.6"/>
<path d="M160.4 601.6H186.8V596.1999999999999L200.2 607.4L186.8 618.6V613.1999999999999H160.4Z" fill="#fff" stroke="#333" stroke-width="1.2"/>
<path d="M172.8 532V555.8" stroke="#000" stroke-width="1.8"/><path d="M170.4 533.2L172.8 528.3L175.2 533.2Z" fill="#000"/>
<path d="M172.8 580.6V597" stroke="#000" stroke-width="1.8"/><path d="M170.4 596L172.8 601L175.2 596Z" fill="#000"/>
<text x="148.1" y="565.5" font-size="7.8" text-anchor="start" font-weight="normal" font-style="normal" fill="#000" textLength="53.2" lengthAdjust="spacingAndGlyphs">Endogenous-like</text>
<text x="147.5" y="576" font-size="7.85">expression of <tspan font-weight="bold" font-style="italic">MLL-ENL</tspan></text>
<text x="196" y="496" font-size="8.7" text-anchor="start" font-weight="bold" font-style="normal" fill="#e01010" >Aberrant</text>
<text x="196" y="506.8" font-size="8.7" text-anchor="start" font-weight="bold" font-style="normal" fill="#e01010" >Self-renewal</text>
<path d="M210.79 516.21A6 6 0 1 1 205.62 519.76" fill="none" stroke="#e00c0c" stroke-width="3.3"/>
<path d="M203.20 516.70L209.60 515.60L207.10 521.80Z" fill="#e00c0c"/>
<circle cx="211.3" cy="608.2" r="6.1" fill="none" stroke="#e00c0c" stroke-width="3"/>
<path d="M201.5 601.5L217.3 617.7M218.5 601.9L202.3 618.5" stroke="#080808" stroke-width="2.2"/>
<circle cx="261.7" cy="521" r="15.3" fill="#161a5e" stroke="#3a4a9a" stroke-width="0.8"/>
<circle cx="261.7" cy="521" r="12" fill="url(#gRedB)"/>
<text x="274.7" y="511" font-size="8.5" text-anchor="start" font-weight="normal" font-style="normal" fill="#000" >LIC</text>
<path d="M243 538.5L233.5 560.5M284.6 536.3L340 559.5" stroke="#6a3a9a" stroke-width="0.9"/>
<path d="M233.5 561.5H341.5L393 613.8H233.5Z" fill="url(#gTrap)"/>
<rect x="233.5" y="613.8" width="159.5" height="104.7" fill="url(#gBox)"/>
<ellipse cx="284.5" cy="576.6" rx="8.4" ry="8.4" fill="url(#gGrey)"/>
<ellipse cx="274.2" cy="585" rx="7.4" ry="7.4" fill="url(#gGrey)"/>
<ellipse cx="289" cy="587.2" rx="6.8" ry="6.8" fill="url(#gGrey)"/>
<ellipse cx="281.5" cy="590.5" rx="6" ry="6" fill="url(#gGrey)"/>
<ellipse cx="252" cy="605.2" rx="5.8" ry="5.4" fill="url(#gGrey)"/>
<ellipse cx="263.5" cy="604" rx="5.3" ry="5" fill="url(#gGrey)"/>
<ellipse cx="268.3" cy="596.6" rx="27" ry="7.7" fill="#a0a6c0" stroke="#7c84a4" stroke-width="0.6"/>
<text x="270" y="600" font-size="10.1" text-anchor="middle" font-weight="bold" font-style="normal" fill="#1616c8" >MLL-ENL</text>
<path d="M297.8 591.4H330" stroke="#000" stroke-width="1.9"/><path d="M329 587.3L337 591.4L329 595.5Z" fill="#000"/>
<rect x="297.6" y="599.8" width="67.6" height="7.4" fill="#fff" stroke="#333" stroke-width="0.5"/>
<text x="336" y="606.6" font-size="8.8" text-anchor="middle" font-weight="normal" font-style="normal" fill="#000" >target genes</text>
<path d="M308.5 618L244.5 650" stroke="#fff" stroke-width="0.9" marker-end="url(#mW)" fill="none"/>
<path d="M310 618L270.5 650" stroke="#fff" stroke-width="0.9" marker-end="url(#mW)" fill="none"/>
<path d="M319.5 618L375.5 652" stroke="#fff" stroke-width="0.9" marker-end="url(#mW)" fill="none"/>
<path d="M314 617V630" stroke="#e8e840" stroke-width="1.3"/><path d="M311.3 628.5H316.7L314 634Z" fill="#e8e840"/>
<path d="M314 675V697" stroke="#f0f040" stroke-width="2"/><path d="M310.5 695H317.5L314 701.5Z" fill="#f0f040"/>
<path d="M299 657.5L284 644.5" stroke="#d8d850" stroke-width="0.8" stroke-dasharray="1.5 1.2" marker-end="url(#mY)" fill="none"/>
<path d="M328 657.5L344.5 644.5" stroke="#d8d850" stroke-width="0.8" stroke-dasharray="1.5 1.2" marker-end="url(#mY)" fill="none"/>
<path d="M262.5 678.5L306 697.5" stroke="#d0d8f4" stroke-width="0.7" marker-end="url(#mL)" fill="none"/>
<path d="M377.5 677L321.5 697.5" stroke="#d0d8f4" stroke-width="0.7" marker-end="url(#mL)" fill="none"/>
<path d="M314 703V713" stroke="#1a1a90" stroke-width="1.5"/><path d="M311 711.5H317L314 717.5Z" fill="#1a1a90"/>
<ellipse cx="299.6" cy="661.5" rx="4.5" ry="4" fill="url(#gOr)"/>
<ellipse cx="302.7" cy="671" rx="3.8" ry="3.5" fill="url(#gOr)"/>
<ellipse cx="313.5" cy="664.6" rx="13.2" ry="8.4" fill="url(#gYel)"/>
<text x="313.5" y="651" font-size="9.5" text-anchor="middle" font-weight="bold" font-style="normal" fill="#f0f030" >Plzf</text>
<text x="261" y="658.5" font-size="9" text-anchor="middle" font-weight="normal" font-style="normal" fill="#fff" >Hoxa9/Meis1</text>
<text x="380" y="658.5" font-size="9" text-anchor="middle" font-weight="normal" font-style="normal" fill="#fff" >Evi1</text>
<ellipse cx="253.5" cy="668" rx="3.2" ry="4.6" fill="url(#gGrey)"/>
<ellipse cx="264.2" cy="668" rx="7" ry="4.6" fill="url(#gGrey)"/>
<ellipse cx="378.8" cy="669.2" rx="4.6" ry="6" fill="url(#gGrey)"/>
<path d="M313.89 720.31A6 6 0 1 1 308.72 723.86" fill="none" stroke="#e00c0c" stroke-width="3.3"/>
<path d="M306.30 720.80L312.70 719.70L310.20 725.90Z" fill="#e00c0c"/>
</svg>
</body></html>
